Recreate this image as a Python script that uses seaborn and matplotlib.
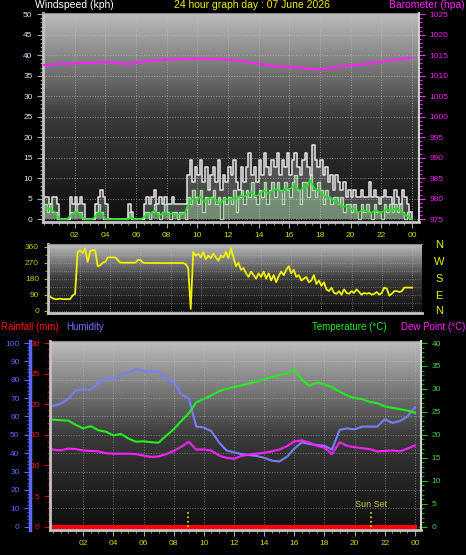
import numpy as np
import pandas as pd
import matplotlib
matplotlib.use('Agg')
import matplotlib.pyplot as plt
from matplotlib.colors import LinearSegmentedColormap
from matplotlib.ticker import MultipleLocator
import seaborn as sns

plt.rcParams['font.family'] = ['Liberation Sans', 'DejaVu Sans']

# wind, 10 minute samples (kph), one row per hour
wind_gust = [5.4, 5.4, 3.6, 5.4, 5.4, 3.6,
             0, 0, 0, 0, 5.4, 3.6,
             5.4, 3.6, 5.4, 3.6, 0, 0,
             0, 0, 3.6, 5.4, 7.2, 5.4,
             3.6, 0, 0, 0, 0, 0,
             0, 0, 0, 3.6, 1.8, 0,
             0, 0, 0, 3.6, 5.4, 3.6,
             5.4, 7.2, 3.6, 5.4, 3.6, 5.4,
             3.6, 3.6, 5.4, 3.6, 3.6, 3.6,
             3.6, 3.6, 10.8, 14.4, 9, 12.6,
             10.8, 14.4, 9, 12.6, 7.2, 10.8,
             12.6, 9, 14.4, 7.2, 10.8, 9,
             12.6, 10.8, 14.4, 9, 7.2, 12.6,
             9, 12.6, 16.2, 10.8, 12.6, 9,
             14.4, 10.8, 16.2, 12.6, 10.8, 14.4,
             12.6, 16.2, 10.8, 14.4, 12.6, 16.2,
             10.8, 14.4, 16.2, 12.6, 10.8, 14.4,
             16.2, 12.6, 10.8, 18, 14.4, 12.6,
             14.4, 10.8, 12.6, 9, 10.8, 7.2,
             10.8, 9, 7.2, 9, 5.4, 7.2,
             5.4, 7.2, 5.4, 5.4, 7.2, 5.4,
             5.4, 9, 5.4, 7.2, 5.4, 3.6,
             5.4, 7.2, 5.4, 5.4, 3.6, 7.2,
             5.4, 3.6, 7.2, 5.4, 3.6, 1.8,
             0]
wind_speed = [3.6, 1.8, 3.6, 1.8, 1.8, 0,
              0, 0, 0, 0, 1.8, 1.8,
              3.6, 1.8, 1.8, 0, 0, 0,
              0, 0, 1.8, 3.6, 1.8, 0,
              0, 0, 0, 0, 0, 0,
              0, 0, 0, 1.8, 0, 0,
              0, 0, 0, 1.8, 1.8, 0,
              1.8, 3.6, 1.8, 0, 1.8, 3.6,
              1.8, 0, 1.8, 1.8, 0, 1.8,
              1.8, 0, 5.4, 3.6, 7.2, 5.4,
              3.6, 7.2, 1.8, 5.4, 3.6, 5.4,
              7.2, 3.6, 5.4, 0, 5.4, 3.6,
              5.4, 3.6, 7.2, 1.8, 5.4, 7.2,
              3.6, 7.2, 5.4, 9, 5.4, 3.6,
              7.2, 5.4, 9, 3.6, 7.2, 9,
              5.4, 9, 7.2, 3.6, 9, 7.2,
              5.4, 9, 10.8, 7.2, 3.6, 9,
              9, 5.4, 10.8, 7.2, 5.4, 9,
              7.2, 3.6, 7.2, 5.4, 3.6, 5.4,
              5.4, 3.6, 5.4, 1.8, 3.6, 3.6,
              1.8, 3.6, 1.8, 0, 3.6, 1.8,
              3.6, 1.8, 0, 3.6, 1.8, 1.8,
              0, 3.6, 1.8, 3.6, 1.8, 3.6,
              1.8, 3.6, 1.8, 0, 1.8, 0,
              0]
wind_avg = [2.5, 2.8, 2.5, 2.2, 1.8, 1.0,
            0, 0, 0, 0, 0.6, 1.2,
            1.8, 1.6, 1.2, 0.5, 0, 0,
            0, 0, 0.6, 1.4, 1.8, 1.0,
            0, 0, 0, 0, 0, 0,
            0, 0, 0, 0, 0.5, 0,
            0, 0, 0, 0.5, 1.0, 1.2,
            1.4, 2.0, 1.6, 0.8, 1.2, 1.6,
            1.4, 1.2, 1.4, 1.2, 1.0, 1.2,
            1.2, 1.4, 3.0, 4.0, 5.0, 4.4,
            4.6, 5.6, 4.8, 4.2, 4.8, 5.2,
            5.0, 4.6, 4.2, 3.8, 4.6, 5.0,
            4.8, 4.6, 5.2, 4.8, 5.4, 5.8,
            5.4, 5.8, 6.2, 6.6, 6.0, 5.6,
            6.0, 6.4, 7.0, 6.6, 6.2, 6.8,
            7.0, 7.4, 7.0, 6.6, 7.2, 7.6,
            7.2, 7.8, 8.4, 7.6, 7.0, 7.4,
            8.0, 7.6, 9.6, 8.4, 7.4, 7.0,
            6.8, 6.0, 5.6, 5.0, 5.4, 4.6,
            4.4, 4.0, 3.4, 3.0, 3.2, 2.8,
            2.4, 2.6, 2.0, 1.6, 2.0, 2.2,
            2.0, 1.6, 1.4, 2.0, 2.2, 1.8,
            1.6, 2.0, 2.4, 2.2, 1.8, 2.4,
            2.6, 2.2, 1.8, 1.2, 0.8, 0.4,
            0]
wind_dir = [80, 70, 65, 65, 68, 65,
            65, 65, 65, 85, 95, 330,
            340, 325, 350, 275, 335, 340,
            340, 250, 255, 270, 275, 300,
            300, 300, 300, 285, 270, 270,
            270, 270, 270, 270, 270, 285,
            285, 270, 268, 268, 268, 268,
            268, 268, 268, 268, 268, 268,
            268, 268, 268, 268, 268, 268,
            262, 240, 10, 330, 310, 320,
            300, 330, 290, 310, 295, 320,
            300, 280, 310, 300, 330, 295,
            350, 300, 250, 270, 230, 240,
            210, 190, 220, 200, 180, 210,
            190, 220, 180, 210, 170, 200,
            160, 195, 220, 200, 230, 250,
            210, 230, 190, 200, 170, 180,
            190, 160, 170, 200, 150, 170,
            140, 160, 120, 110, 130, 100,
            95, 110, 90, 120, 100, 95,
            110, 100, 120, 105, 90, 100,
            95, 100, 90, 95, 105, 90,
            100, 130, 125, 85, 95, 110,
            110, 105, 110, 130, 130, 130,
            130]

# half hourly samples
baro_hpa = [1012.6, 1012.7, 1012.9, 1012.9, 1013.0, 1013.1, 1013.1, 1013.2,
            1013.3, 1013.2, 1013.0, 1012.8, 1013.2, 1013.4, 1013.6, 1013.8,
            1013.9, 1014.0, 1014.1, 1014.1, 1014.2, 1014.2, 1014.1, 1014.0,
            1013.9, 1013.7, 1013.5, 1013.2, 1012.9, 1012.6, 1012.4, 1012.2,
            1012.1, 1012.0, 1011.8, 1011.6, 1011.5, 1011.8, 1012.1, 1012.3,
            1012.5, 1012.7, 1012.8, 1013.1, 1013.4, 1013.7, 1013.9, 1014.1,
            1014.4]
temp_c = [23.3, 23.2, 23.1, 22.2, 21.4, 21.9, 21.0, 20.7, 19.9, 20.2,
          19.2, 18.5, 18.6, 18.4, 18.3, 19.8, 21.2, 23.0, 24.7, 27.1,
          27.8, 28.6, 29.5, 30.0, 30.4, 30.8, 31.2, 31.6, 32.1, 32.6,
          33.0, 33.4, 34.2, 32.0, 30.7, 31.4, 31.0, 30.4, 29.4, 28.6,
          28.0, 27.8, 27.2, 26.9, 26.2, 25.9, 25.6, 25.3, 24.8]
dew_c = [16.8, 16.6, 17.0, 16.9, 16.6, 16.5, 16.4, 16.0, 15.9, 15.9,
         15.9, 15.8, 15.5, 15.2, 15.3, 15.8, 16.5, 17.4, 18.5, 16.8,
         16.8, 16.6, 15.5, 15.0, 14.8, 15.4, 15.7, 15.9, 16.1, 16.4,
         16.8, 17.5, 18.6, 18.8, 18.3, 17.6, 17.2, 15.8, 18.4, 17.6,
         17.3, 17.1, 16.9, 16.4, 16.5, 16.6, 16.4, 17.0, 17.7]
humidity = [65.8, 67, 69.5, 74, 75, 74.5, 78, 81, 80, 83,
            84, 86, 84.6, 84.5, 84.4, 80, 79, 72, 70, 54.5,
            54, 52, 46, 41.5, 40.5, 39.5, 39, 38.5, 37.5, 36,
            35.5, 38, 42.5, 46, 45, 44.5, 44, 42, 52.7, 53.5,
            53, 54.5, 54.5, 54.5, 58.5, 56.5, 57.5, 60, 65]
rain_hours = [0, 24]
rain_mm = [0, 0]

hour_ticks = [2, 4, 6, 8, 10, 12, 14, 16, 18, 20, 22, 24]
hour_labels = ['02', '04', '06', '08', '10', '12', '14', '16', '18', '20', '22', '00']
compass = ['N', 'W', 'S', 'E', 'N']
sun_rise_h = 8.93
sun_set_h = 21.07

wind_df = pd.DataFrame({'hour': np.arange(len(wind_gust)) / 6.0,
                        'gust': wind_gust, 'speed': wind_speed,
                        'avg': wind_avg, 'dir': wind_dir})
half_df = pd.DataFrame({'hour': np.arange(len(baro_hpa)) / 2.0,
                        'baro': baro_hpa, 'temp': temp_c,
                        'dew': dew_c, 'hum': humidity})

W, H = 466, 555
fig = plt.figure(figsize=(W / 100, H / 100), dpi=100, facecolor='black')
shade_cmap = LinearSegmentedColormap.from_list('shade', ['#0e0e0e', '#3a3a3a', '#bcbcbc'])
tick_yellow = '#d8d800'


def box(l, t, r, b):
    return [l / W, 1 - b / H, (r - l) / W, (b - t) / H]


def shade(ax):
    grad = np.linspace(1, 0, 256).reshape(-1, 1)
    ax.imshow(grad, extent=[0, 1, 0, 1], transform=ax.transAxes,
              aspect='auto', cmap=shade_cmap, zorder=0)


def grey_frame(ax):
    for s in ['left', 'bottom']:
        ax.spines[s].set_color('#c4c4c4')
        ax.spines[s].set_linewidth(2)
    ax.spines['top'].set_color('#8a8a8a')
    ax.spines['right'].set_visible(False)


# ---- wind speed / barometer ----
ax1 = fig.add_axes(box(43, 13, 419, 222))
ax1.set_facecolor('black')
shade(ax1)
ax1.fill_between(wind_df['hour'], wind_df['gust'], step='post', color='white', alpha=0.22, lw=0, zorder=2)
sns.lineplot(data=wind_df, x='hour', y='gust', ax=ax1, color='#e4e4e4', lw=1.1, drawstyle='steps-post')
ax1.fill_between(wind_df['hour'], wind_df['speed'], step='post', color='#b8f0b8', alpha=0.4, lw=0, zorder=2)
sns.lineplot(data=wind_df, x='hour', y='speed', ax=ax1, color='#bff2bf', lw=1.0, alpha=0.8, drawstyle='steps-post')
sns.lineplot(data=wind_df, x='hour', y='avg', ax=ax1, color='#22e022', lw=1.2)
ax1.set_xlim(-0.07, 24.46)
ax1.set_ylim(-0.7, 50.3)
ax1.set_yticks(range(0, 51, 5))
ax1.yaxis.set_minor_locator(MultipleLocator(1))
ax1.set_xticks(hour_ticks)
ax1.set_xticklabels(hour_labels)
ax1.xaxis.set_minor_locator(MultipleLocator(0.5))
ax1.tick_params(axis='y', which='both', colors='#a8a8a8', labelcolor='#dfe2ff', labelsize=6)
ax1.tick_params(axis='x', which='both', colors='#a8a8a8', labelcolor=tick_yellow, labelsize=6)
ax1.tick_params(which='major', length=4)
ax1.tick_params(which='minor', length=2)
ax1.grid(True, which='major', ls=':', color='#c8c8c8', lw=0.7, alpha=0.6)
ax1.set(xlabel='', ylabel='')
grey_frame(ax1)

ax1b = ax1.twinx()
sns.lineplot(data=half_df, x='hour', y='baro', ax=ax1b, color='#ff22ff', lw=1.5)
ax1b.set_ylim(975 - 0.7, 1025.3)
ax1b.set_yticks(range(975, 1026, 5))
ax1b.yaxis.set_minor_locator(MultipleLocator(1))
ax1b.tick_params(axis='y', which='both', colors='#ff33ff', labelcolor='#ee22ee', labelsize=6)
ax1b.tick_params(which='major', length=4)
ax1b.tick_params(which='minor', length=2)
ax1b.set(xlabel='', ylabel='')
for s in ['left', 'top', 'bottom']:
    ax1b.spines[s].set_visible(False)
ax1b.spines['right'].set_color('#d0d0d0')
ax1b.spines['right'].set_linewidth(1.5)

# ---- wind direction ----
ax2 = fig.add_axes(box(48, 244, 422, 313))
ax2.set_facecolor('black')
shade(ax2)
sns.lineplot(data=wind_df, x='hour', y='dir', ax=ax2, color='#f0f000', lw=1.3)
ax2.set_xlim(-0.13, 24.67)
ax2.set_ylim(-13, 375)
ax2.set_yticks([0, 90, 180, 270, 360])
ax2.yaxis.set_minor_locator(MultipleLocator(45))
ax2.set_xticks(hour_ticks)
ax2.set_xticklabels([])
ax2.tick_params(axis='x', length=0)
ax2.tick_params(axis='y', which='both', colors='#b8b800', labelcolor='#c8c800', labelsize=6)
ax2.tick_params(which='major', length=3)
ax2.tick_params(which='minor', length=2)
ax2.grid(True, which='both', ls=':', color='#c8c8c8', lw=0.6, alpha=0.5)
ax2.set(xlabel='', ylabel='')
grey_frame(ax2)

for label, yy in zip(compass, [245, 262, 279, 296, 311]):
    fig.text(439 / W, 1 - yy / H, label, color='#f0f000', fontsize=8, ha='center', va='center')

# ---- humidity / rain / temperature ----
ax3 = fig.add_axes(box(50, 341, 421, 530))
ax3.set_facecolor('black')
shade(ax3)
sns.lineplot(data=half_df, x='hour', y='hum', ax=ax3, color='#7880ff', lw=1.5)
ax3.set_xlim(-0.2, 24.4)
ax3.set_ylim(-1.8, 101.1)
ax3.set_yticks(range(0, 101, 10))
ax3.yaxis.set_minor_locator(MultipleLocator(2))
ax3.set_xticks(hour_ticks)
ax3.set_xticklabels(hour_labels)
ax3.xaxis.set_minor_locator(MultipleLocator(0.5))
ax3.tick_params(axis='y', which='both', colors='#5a68ff', labelcolor='#5a68ff', labelsize=6)
ax3.tick_params(axis='x', which='both', colors='#a8a8a8', labelcolor=tick_yellow, labelsize=6)
ax3.tick_params(which='major', length=4)
ax3.tick_params(which='minor', length=2)
ax3.grid(True, which='major', ls=':', color='#c8c8c8', lw=0.7, alpha=0.5)
ax3.set(xlabel='', ylabel='')
grey_frame(ax3)
ax3.spines['left'].set_position(('outward', 14.4))
ax3.spines['left'].set_color('#5a68ff')
ax3.spines['left'].set_linewidth(2.5)

ax3r = ax3.twinx()
sns.lineplot(x=rain_hours, y=rain_mm, ax=ax3r, color='#ff0000', lw=3)
ax3r.yaxis.tick_left()
ax3r.set_ylim(-0.54, 30.33)
ax3r.set_yticks(range(0, 31, 5))
ax3r.yaxis.set_minor_locator(MultipleLocator(1))
ax3r.tick_params(axis='y', which='both', colors='#dd0000', labelcolor='#ee1111', labelsize=6)
ax3r.tick_params(which='major', length=4)
ax3r.tick_params(which='minor', length=2)
for s in ['right', 'top', 'bottom']:
    ax3r.spines[s].set_visible(False)
ax3r.spines['left'].set_color('#c4c4c4')
ax3r.spines['left'].set_linewidth(2)
ax3r.set(xlabel='', ylabel='')

ax3t = ax3.twinx()
sns.lineplot(data=half_df, x='hour', y='temp', ax=ax3t, color='#22ee22', lw=1.5)
sns.lineplot(data=half_df, x='hour', y='dew', ax=ax3t, color='#ff22ff', lw=1.5)
ax3t.set_ylim(-0.72, 40.44)
ax3t.set_yticks(range(0, 41, 5))
ax3t.yaxis.set_minor_locator(MultipleLocator(1))
ax3t.tick_params(axis='y', which='both', colors='#22c022', labelcolor='#44d044', labelsize=6)
ax3t.tick_params(which='major', length=4)
ax3t.tick_params(which='minor', length=2)
for s in ['left', 'top', 'bottom']:
    ax3t.spines[s].set_visible(False)
ax3t.spines['right'].set_color('#d0d0d0')
ax3t.spines['right'].set_linewidth(1.5)
ax3t.set(xlabel='', ylabel='')
for h in [sun_rise_h, sun_set_h]:
    ax3t.plot([h, h], [0, 3.6], ls=':', color='#e8e800', lw=1.2)
ax3t.text(sun_set_h, 3.9, 'Sun Set', color='#c8c850', fontsize=6.5, ha='center', va='bottom')

# ---- header texts ----
fig.text(35 / W, 1 - 5 / H, 'Windspeed (kph)', color='white', fontsize=7.5, va='center')
fig.text(252 / W, 1 - 5 / H, '24 hour graph day : 07 June 2026', color='#f0f000', fontsize=7.5, ha='center', va='center')
fig.text(465 / W, 1 - 5 / H, 'Barometer (hpa)', color='#ff22ff', fontsize=7.5, ha='right', va='center')
fig.text(1 / W, 1 - 327 / H, 'Rainfall (mm)', color='#ff1111', fontsize=7, va='center')
fig.text(66 / W, 1 - 327 / H, 'Humidity', color='#7070ff', fontsize=7, va='center')
fig.text(312 / W, 1 - 327 / H, 'Temperature (°C)', color='#22ee22', fontsize=7, va='center')
fig.text(465 / W, 1 - 327 / H, 'Dew Point (°C)', color='#ff22ff', fontsize=7, ha='right', va='center')

fig.savefig('out.png', dpi=100, facecolor='black')
